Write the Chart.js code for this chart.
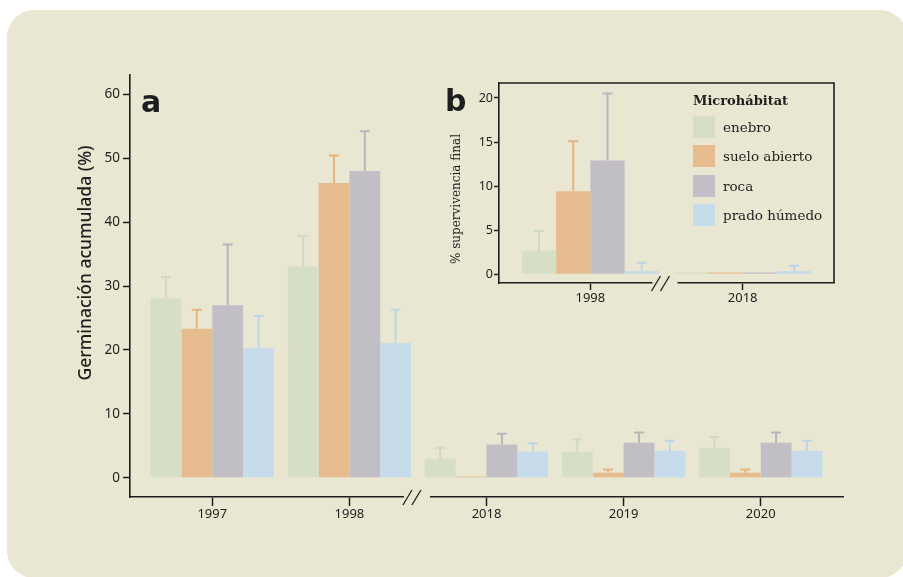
<!DOCTYPE html>
<html>
<head>
<meta charset="utf-8">
<script src="https://cdn.jsdelivr.net/npm/chart.js@4/dist/chart.umd.min.js"></script>
<style>
  html, body { margin: 0; padding: 0; background: #fff; }
  body { width: 903px; height: 577px; position: relative; overflow: hidden; }
  #panel { position: absolute; left: 7px; top: 10px; width: 900px; height: 568px; border-radius: 27px; background: #e9e7d2; }
  #main { position: absolute; left: 0; top: 0; }
  #inset { position: absolute; left: 430px; top: 60px; }
  .lg { position: absolute; font-family: "DejaVu Serif", serif; color: #1e1e1e; white-space: nowrap; }
  .lg-title { font-weight: bold; font-size: 13px; }
  .lg-item { font-size: 13.5px; height: 22px; line-height: 22px; }
  .lg-item span { display: inline-block; width: 22px; height: 22px; vertical-align: top; margin-right: 8px; }
</style>
</head>
<body>
<div id="panel"></div>
<canvas id="main" width="903" height="577"></canvas>
<canvas id="inset" width="473" height="260"></canvas>
<div id="legend"></div>
<script>
// --- datos ---
const microhabitats = ['enebro', 'suelo abierto', 'roca', 'prado húmedo'];
const barColors = ['#d6dfc6', '#e6bc8e', '#c1bec6', '#c6dcea'];
const errColors = ['#cfdabf', '#e5b47f', '#b9b5be', '#bdd6e7'];

// a) germinación acumulada (%)
const yearsA = ['1997', '1998', '2018', '2019', '2020'];
const germEnebro = [28.1, 33.1, 3.0, 4.1, 4.7];
const germSuelo  = [23.3, 46.1, 0.2, 0.8, 0.8];
const germRoca   = [27.0, 48.0, 5.2, 5.5, 5.5];
const germPrado  = [20.3, 21.1, 4.1, 4.2, 4.2];
const germEnebroErr = [3.3, 4.7, 1.7, 1.9, 1.7];
const germSueloErr  = [3.0, 4.3, 0, 0.5, 0.5];
const germRocaErr   = [9.5, 6.2, 1.7, 1.6, 1.6];
const germPradoErr  = [5.0, 5.2, 1.3, 1.6, 1.6];
const ticksA = [0, 10, 20, 30, 40, 50, 60];

// b) % supervivencia final
const yearsB = ['1998', '2018'];
const survEnebro = [2.7, 0.2];
const survSuelo  = [9.4, 0.2];
const survRoca   = [12.9, 0.2];
const survPrado  = [0.35, 0.35];
const survEnebroErr = [2.2, 0];
const survSueloErr  = [5.7, 0];
const survRocaErr   = [7.6, 0];
const survPradoErr  = [0.95, 0.6];
const ticksB = [0, 5, 10, 15, 20];

const PANEL = '#e9e7d2';
const INK = '#1e1e1e';

// barras de error (sólo hacia arriba)
const errorBars = {
  id: 'errorBars',
  afterDatasetsDraw(chart) {
    const ctx = chart.ctx, y = chart.scales.y;
    chart.data.datasets.forEach((ds, i) => {
      chart.getDatasetMeta(i).data.forEach((bar, j) => {
        const e = ds.errors[j];
        if (!e) return;
        const top = y.getPixelForValue(ds.data[j].y + e);
        ctx.save();
        ctx.strokeStyle = ds.errorColor;
        ctx.lineWidth = 2;
        ctx.beginPath();
        ctx.moveTo(bar.x, bar.y);
        ctx.lineTo(bar.x, top);
        ctx.moveTo(bar.x - 5, top);
        ctx.lineTo(bar.x + 5, top);
        ctx.stroke();
        ctx.restore();
      });
    });
  }
};

// letra del panel, título del eje y, corte del eje x, marco
const decor = {
  id: 'decor',
  afterDraw(chart, args, o) {
    const ctx = chart.ctx, area = chart.chartArea;
    ctx.save();
    // corte //
    const c = chart.scales.x.getPixelForValue(o.breakAt);
    const b = area.bottom;
    ctx.fillStyle = PANEL;
    ctx.fillRect(c - o.gapL, b - 3, o.gapL + o.gapR, 6);
    ctx.strokeStyle = INK;
    ctx.lineWidth = 1.3;
    ctx.beginPath();
    ctx.moveTo(c - o.gapL - 1, b + 8); ctx.lineTo(c - o.gapL + 8, b - 7);
    ctx.moveTo(c - o.gapL + 8, b + 8); ctx.lineTo(c - o.gapL + 17, b - 7);
    ctx.stroke();
    if (o.box) {
      ctx.lineWidth = 1.6;
      ctx.beginPath();
      ctx.moveTo(area.left, area.top);
      ctx.lineTo(area.right, area.top);
      ctx.lineTo(area.right, area.bottom);
      ctx.stroke();
    }
    ctx.fillStyle = INK;
    ctx.font = 'bold 30px "DejaVu Sans"';
    ctx.textBaseline = 'alphabetic';
    ctx.fillText(o.letter, o.letterX, o.letterY);
    ctx.translate(o.titleX, o.titleY);
    ctx.rotate(-Math.PI / 2);
    ctx.font = o.titleFont;
    ctx.textAlign = 'center';
    ctx.textBaseline = 'middle';
    ctx.fillText(o.title, 0, 0);
    ctx.restore();
  }
};

function makeSets(series, errs) {
  return series.map((vals, i) => ({
    label: microhabitats[i],
    data: vals.map((v, j) => ({ x: j, y: v })),
    errors: errs[i],
    backgroundColor: barColors[i],
    errorColor: errColors[i],
    borderWidth: 0,
    categoryPercentage: 0.9,
    barPercentage: 1.0
  }));
}

function axisOpts(cfg) {
  return {
    x: {
      type: 'linear', min: cfg.xmin, max: cfg.xmax, offset: false,
      afterBuildTicks: s => { s.ticks = cfg.labels.map((_, i) => ({ value: i })); },
      afterFit: s => { s.height = cfg.xh; },
      ticks: { callback: v => cfg.labels[v], color: INK, font: { family: 'Noto Sans', size: 13 }, padding: 0, maxRotation: 0 },
      grid: { offset: false, drawOnChartArea: false, tickLength: cfg.xTick, tickWidth: 1.5, color: INK },
      border: { color: INK, width: 1.6 }
    },
    y: {
      min: cfg.ymin, max: cfg.ymax,
      afterBuildTicks: s => { s.ticks = cfg.yticks.map(v => ({ value: v })); },
      afterFit: s => { s.width = cfg.yw; },
      ticks: { color: INK, font: { family: 'Noto Sans', size: cfg.yFont }, padding: cfg.yPad },
      grid: { drawOnChartArea: false, tickLength: cfg.yTick, tickWidth: 1.5, color: INK },
      border: { color: INK, width: 1.6 }
    }
  };
}

new Chart(document.getElementById('main'), {
  type: 'bar',
  data: { datasets: makeSets([germEnebro, germSuelo, germRoca, germPrado], [germEnebroErr, germSueloErr, germRocaErr, germPradoErr]) },
  options: {
    responsive: false, animation: false,
    layout: { padding: { left: 70, right: 60, top: 75, bottom: 40 } },
    plugins: {
      legend: { display: false }, tooltip: { enabled: false },
      decor: { breakAt: 1.5, gapL: 14, gapR: 12, letter: 'a', letterX: 141, letterY: 112,
               title: 'Germinación acumulada (%)', titleX: 86, titleY: 263, titleFont: '500 17.5px "Noto Sans"' }
    },
    scales: axisOpts({ xmin: -0.6, xmax: 4.6, labels: yearsA, xh: 40, xTick: 9,
                       ymin: -3, ymax: 63, yticks: ticksA, yw: 60, yTick: 7, yPad: 3, yFont: 13.5 })
  },
  plugins: [errorBars, decor]
});

new Chart(document.getElementById('inset'), {
  type: 'bar',
  data: { datasets: makeSets([survEnebro, survSuelo, survRoca, survPrado], [survEnebroErr, survSueloErr, survRocaErr, survPradoErr]) },
  options: {
    responsive: false, animation: false,
    layout: { padding: { left: 39, right: 69, top: 23, bottom: 12 } },
    plugins: {
      legend: { display: false }, tooltip: { enabled: false },
      decor: { breakAt: 0.5, gapL: 14, gapR: 11, box: true, letter: 'b', letterX: 15, letterY: 51,
               title: '% supervivencia final', titleX: 27, titleY: 139, titleFont: '12px "DejaVu Serif"' }
    },
    scales: axisOpts({ xmin: -0.6, xmax: 1.6, labels: yearsB, xh: 25, xTick: 7,
                       ymin: -1, ymax: 21.7, yticks: ticksB, yw: 30, yTick: 5, yPad: 1, yFont: 12.5 })
  },
  plugins: [errorBars, decor]
});

// leyenda
const legend = document.getElementById('legend');
const t = document.createElement('div');
t.className = 'lg lg-title';
t.style.left = '693px'; t.style.top = '93px';
t.textContent = 'Microhábitat';
legend.appendChild(t);
microhabitats.forEach((name, i) => {
  const d = document.createElement('div');
  d.className = 'lg lg-item';
  d.style.left = '693px';
  d.style.top = (116 + i * 29.3) + 'px';
  d.innerHTML = '<span style="background:' + barColors[i] + '"></span>' + name;
  legend.appendChild(d);
});
</script>
</body>
</html>
